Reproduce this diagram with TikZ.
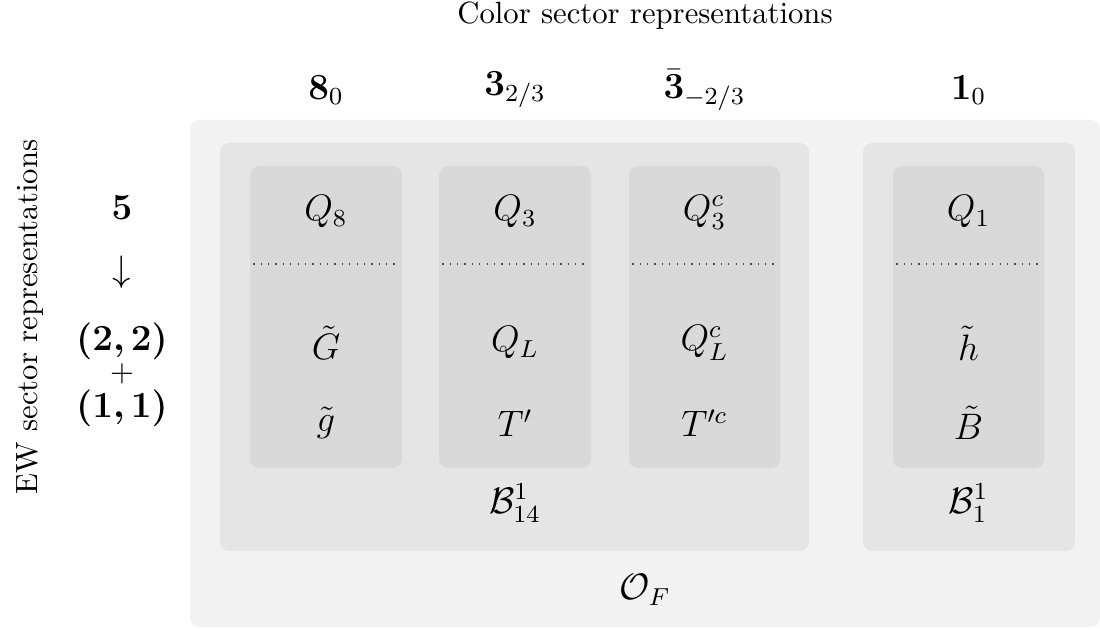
\documentclass[tikz,border=0pt]{standalone}
\usepackage{amsmath}
\usepackage{amssymb}
\usepackage{bm}
\usepackage{xcolor}
\usetikzlibrary{positioning, calc, fit}

\begin{document}
\begin{tikzpicture}[
   x=0.3257pt, y=0.3257pt,
   outerbox/.style={rectangle, fill=gray!10, rounded corners=3pt, inner sep=0pt},
   groupbox/.style={rectangle, fill=gray!20, rounded corners=3pt, inner sep=0pt},
   repbox/.style={rectangle, fill=gray!30, rounded corners=3pt, inner sep=0pt},
   sep/.style={gray!60!black, dotted, thin},
   lbl/.style={font=\large, inner sep=1pt},
   axis/.style={font=\normalsize, inner sep=1pt}
]
   \useasboundingbox (0,0) rectangle (1100,630);

   % Axis titles
   \node[axis] (title) at (645,614) {Color sector representations};
   \node[axis, rotate=90] (ew) at (30,313) {EW sector representations};

   % Boxes
   \node[outerbox, fit={(190,3) (1100,510)}] (of) {};
   \node[groupbox, fit={(220,79) (809,487)}] (b14) {};
   \node[groupbox, fit={(863,79) (1075,487)}] (b1) {};
   \node[repbox, fit={(250,162) (402,464)}] (r8) {};
   \node[repbox, fit={(439,162) (591,464)}] (r3) {};
   \node[repbox, fit={(629,162) (780,464)}] (r3b) {};
   \node[repbox, fit={(893,162) (1044,464)}] (r1) {};

   % Color headers
   \node[lbl] (h8) at (r8.center |- 0,540) {$\mathbf{8}_0$};
   \node[lbl] (h3) at (r3.center |- 0,540) {$\mathbf{3}_{2/3}$};
   \node[lbl] (h3b) at (r3b.center |- 0,540) {$\bar{\mathbf{3}}_{-2/3}$};
   \node[lbl] (h1) at (r1.center |- 0,540) {$\mathbf{1}_0$};

   % EW column
   \node[lbl] (e5) at (122,422) {$\mathbf{5}$};
   \node[lbl] (arr) at (122,358) {$\downarrow$};
   \node[lbl] (e22) at (122,289) {$\bm{(2,2)}$};
   \node[axis] (plus) at (122,256) {$+$};
   \node[lbl] (e11) at (122,222) {$\bm{(1,1)}$};

   % Top row
   \node[lbl] (q8) at (r8.center |- 0,418) {$Q_8$};
   \node[lbl] (q3) at (r3.center |- 0,418) {$Q_3$};
   \node[lbl] (q3c) at (r3b.center |- 0,418) {$Q_3^c$};
   \node[lbl] (q1) at (r1.center |- 0,418) {$Q_1$};

   % Separators
   \draw[sep] ([xshift=1.3pt]r8.west |- 0,366) -- ([xshift=-1.3pt]r8.east |- 0,366);
   \draw[sep] ([xshift=1.3pt]r3.west |- 0,366) -- ([xshift=-1.3pt]r3.east |- 0,366);
   \draw[sep] ([xshift=1.3pt]r3b.west |- 0,366) -- ([xshift=-1.3pt]r3b.east |- 0,366);
   \draw[sep] ([xshift=1.3pt]r1.west |- 0,366) -- ([xshift=-1.3pt]r1.east |- 0,366);

   % Fields
   \node[lbl] (gg) at (r8.center |- 0,287) {$\tilde{G}$};
   \node[lbl] (g) at (r8.center |- 0,207) {$\tilde{g}$};
   \node[lbl] (ql) at (r3.center |- 0,287) {$Q_L$};
   \node[lbl] (tp) at (r3.center |- 0,207) {$T'$};
   \node[lbl] (qlc) at (r3b.center |- 0,287) {$Q_L^c$};
   \node[lbl] (tpc) at (r3b.center |- 0,207) {$T'^c$};
   \node[lbl] (h) at (r1.center |- 0,287) {$\tilde{h}$};
   \node[lbl] (bb) at (r1.center |- 0,207) {$\tilde{B}$};

   % Sector labels
   \node[lbl] (lb14) at (r3.center |- 0,127) {$\mathcal{B}^1_{14}$};
   \node[lbl] (lb1) at (r1.center |- 0,127) {$\mathcal{B}^1_1$};
   \node[lbl] (lof) at (of.center |- 0,40) {$\mathcal{O}_F$};
\end{tikzpicture}
\end{document}
